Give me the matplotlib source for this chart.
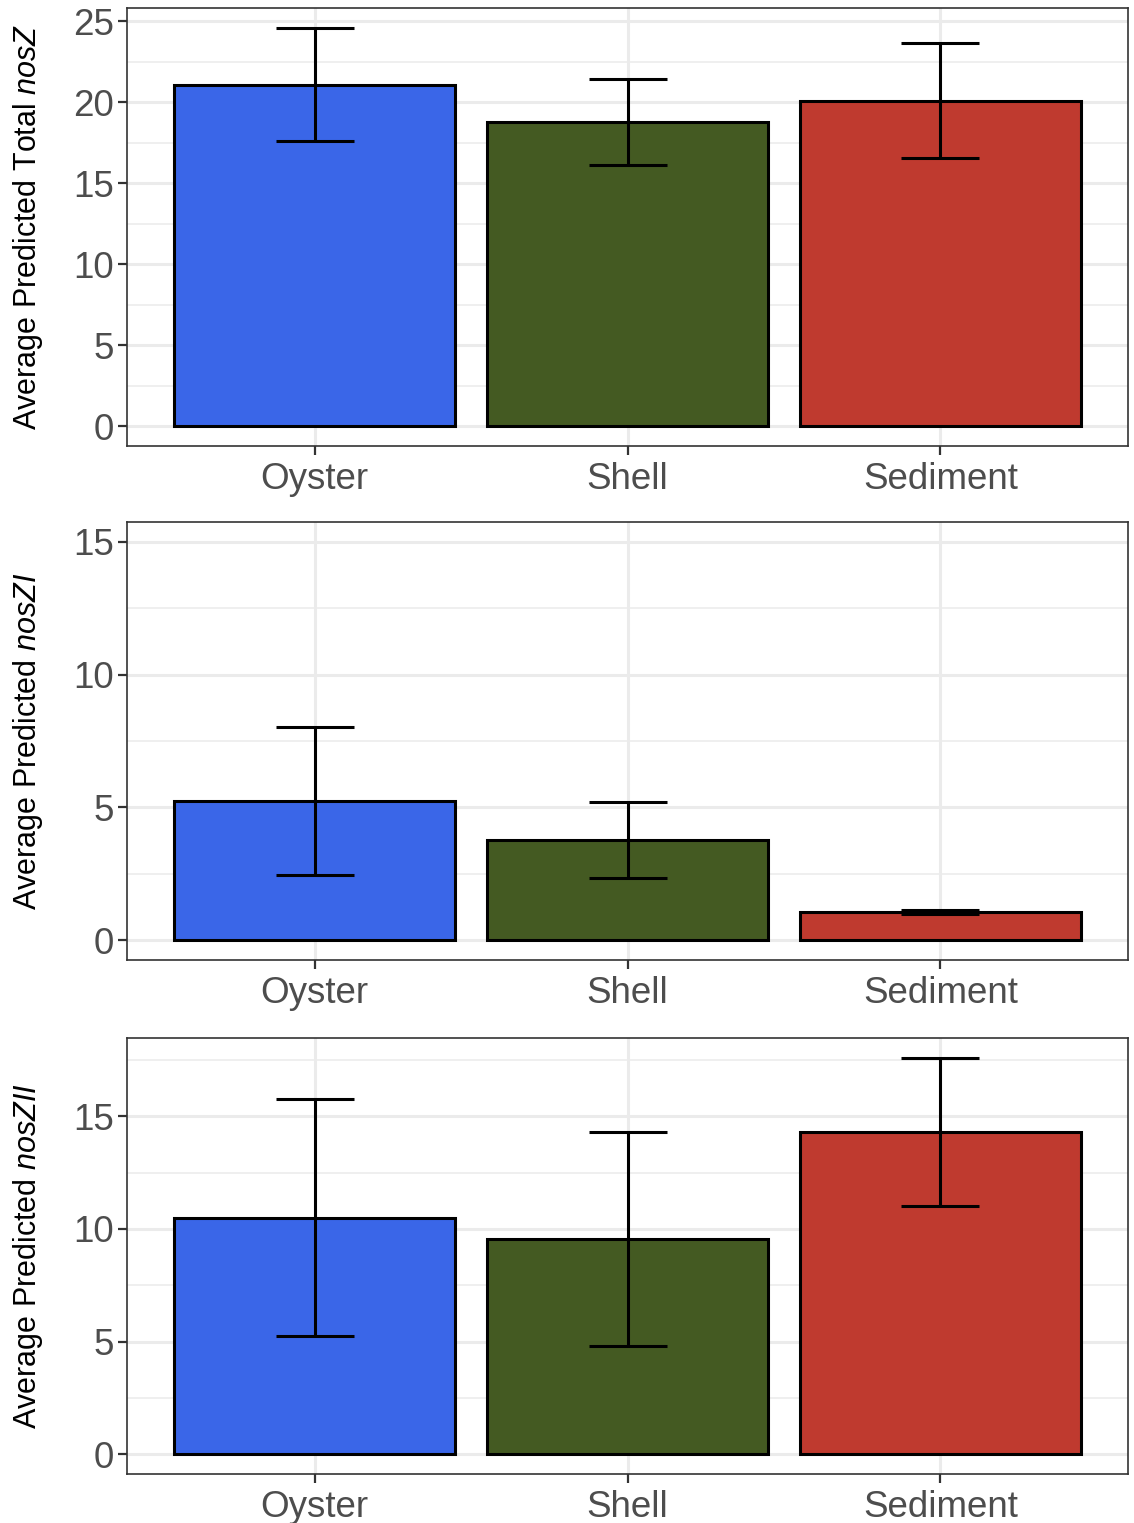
import matplotlib
matplotlib.use("Agg")
import matplotlib.pyplot as plt
from matplotlib.ticker import MultipleLocator

plt.rcParams['font.family'] = ['Liberation Sans', 'DejaVu Sans']
plt.rcParams['mathtext.fontset'] = 'custom'
plt.rcParams['mathtext.rm'] = 'Liberation Sans'
plt.rcParams['mathtext.it'] = 'Liberation Sans:italic'

sites = ["Oyster", "Shell", "Sediment"]
bar_colors = ["#3A66E8", "#445A22", "#BF3A2F"]

total_mean = [21.1, 18.8, 20.1]
total_se = [3.5, 2.65, 3.55]

nosZI_mean = [5.23, 3.76, 1.05]
nosZI_se = [2.78, 1.43, 0.08]

nosZII_mean = [10.5, 9.57, 14.3]
nosZII_se = [5.27, 4.75, 3.3]

panels = [
    (total_mean, total_se, r"Average Predicted Total $\it{nosZ}$", (-1.23, 25.83)),
    (nosZI_mean, nosZI_se, r"Average Predicted $\it{nosZI}$", (-0.75, 15.75)),
    (nosZII_mean, nosZII_se, r"Average Predicted $\it{nosZII}$", (-0.88, 18.48)),
]

W, H = 1134, 1523
fig = plt.figure(figsize=(W / 100, H / 100), dpi=100)

# pixel boxes (top, bottom) of each panel
boxes = [(8, 446), (522, 960), (1038, 1474)]
left, right = 127, 1128

for (means, ses, label, ylim), (top, bot) in zip(panels, boxes):
    ax = fig.add_axes([left / W, 1 - bot / H, (right - left) / W, (bot - top) / H])
    x = list(range(len(sites)))
    ax.bar(x, means, width=0.9, color=bar_colors, edgecolor="black", linewidth=2.2, zorder=3)
    ax.errorbar(x, means, yerr=ses, fmt="none", ecolor="black", elinewidth=2.2,
                capsize=28, capthick=2.2, zorder=4)
    ax.set_xlim(-0.6, 2.6)
    ax.set_ylim(*ylim)
    ax.set_xticks(x)
    ax.set_xticklabels(sites)
    ax.yaxis.set_major_locator(MultipleLocator(5))
    ax.yaxis.set_minor_locator(MultipleLocator(2.5))
    ax.grid(which="major", color="#EBEBEB", linewidth=2.2, zorder=0)
    ax.grid(which="minor", axis="y", color="#EBEBEB", linewidth=1.1, zorder=0)
    ax.set_axisbelow(True)
    ax.tick_params(axis="both", which="major", labelsize=26.5, labelcolor="#4D4D4D",
                   color="#333333", length=6.5, width=1.6, pad=3)
    ax.tick_params(axis="x", which="major", pad=5)
    ax.tick_params(axis="y", which="minor", length=0)
    for s in ax.spines.values():
        s.set_color("#333333")
        s.set_linewidth(1.2)
    fig.text(28 / W, 1 - (top + bot) / 2 / H, label, rotation=90, ha="center", va="center",
             fontsize=22, color="black")

fig.savefig("out.png", dpi=100)
